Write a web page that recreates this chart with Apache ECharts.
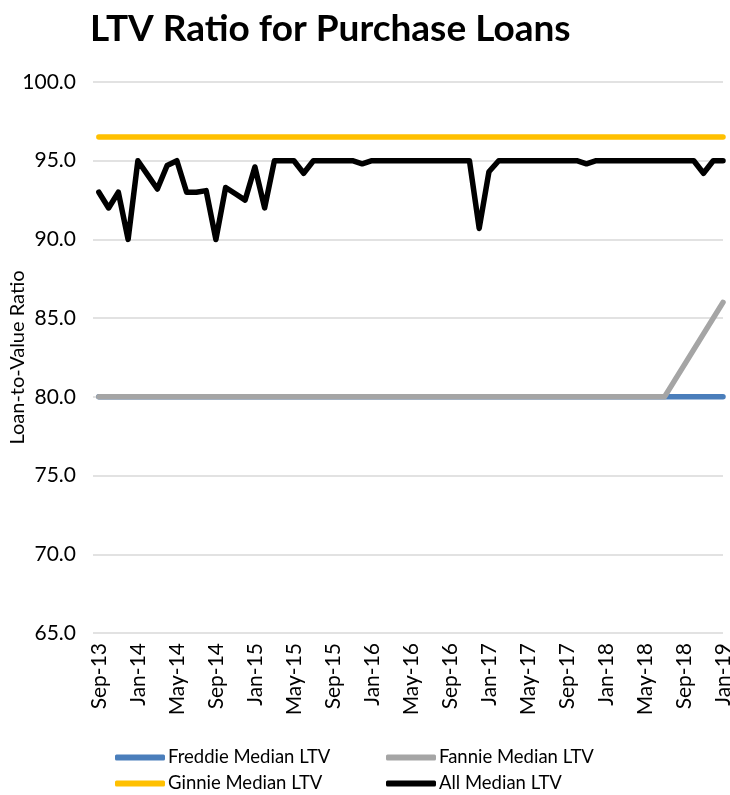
<!DOCTYPE html>
<html>
<head>
<meta charset="utf-8">
<script src="https://cdn.jsdelivr.net/npm/echarts@6/dist/echarts.min.js"></script>
<style>
  html, body { margin: 0; padding: 0; background: #fff; }
  #main { width: 730px; height: 795px; }
</style>
</head>
<body>
<div id="main"></div>
<script>
// categories, monthly Sep-13 .. Jan-19
const months = [
  'Sep-13', 'Oct-13', 'Nov-13', 'Dec-13',
  'Jan-14', 'Feb-14', 'Mar-14', 'Apr-14', 'May-14', 'Jun-14', 'Jul-14', 'Aug-14', 'Sep-14', 'Oct-14', 'Nov-14', 'Dec-14',
  'Jan-15', 'Feb-15', 'Mar-15', 'Apr-15', 'May-15', 'Jun-15', 'Jul-15', 'Aug-15', 'Sep-15', 'Oct-15', 'Nov-15', 'Dec-15',
  'Jan-16', 'Feb-16', 'Mar-16', 'Apr-16', 'May-16', 'Jun-16', 'Jul-16', 'Aug-16', 'Sep-16', 'Oct-16', 'Nov-16', 'Dec-16',
  'Jan-17', 'Feb-17', 'Mar-17', 'Apr-17', 'May-17', 'Jun-17', 'Jul-17', 'Aug-17', 'Sep-17', 'Oct-17', 'Nov-17', 'Dec-17',
  'Jan-18', 'Feb-18', 'Mar-18', 'Apr-18', 'May-18', 'Jun-18', 'Jul-18', 'Aug-18', 'Sep-18', 'Oct-18', 'Nov-18', 'Dec-18',
  'Jan-19'
]
// months that get a label (every 4th)
const labelIdx = [0, 4, 8, 12, 16, 20, 24, 28, 32, 36, 40, 44, 48, 52, 56, 60, 64]

// series values
const freddie = [
  80, 80, 80, 80,
  80, 80, 80, 80, 80, 80, 80, 80, 80, 80, 80, 80,
  80, 80, 80, 80, 80, 80, 80, 80, 80, 80, 80, 80,
  80, 80, 80, 80, 80, 80, 80, 80, 80, 80, 80, 80,
  80, 80, 80, 80, 80, 80, 80, 80, 80, 80, 80, 80,
  80, 80, 80, 80, 80, 80, 80, 80, 80, 80, 80, 80,
  80
]
const fannie = [
  80, 80, 80, 80,
  80, 80, 80, 80, 80, 80, 80, 80, 80, 80, 80, 80,
  80, 80, 80, 80, 80, 80, 80, 80, 80, 80, 80, 80,
  80, 80, 80, 80, 80, 80, 80, 80, 80, 80, 80, 80,
  80, 80, 80, 80, 80, 80, 80, 80, 80, 80, 80, 80,
  80, 80, 80, 80, 80, 80, 80, 81, 82, 83, 84, 85,
  86
]
const ginnie = [
  96.5, 96.5, 96.5, 96.5,
  96.5, 96.5, 96.5, 96.5, 96.5, 96.5, 96.5, 96.5, 96.5, 96.5, 96.5, 96.5,
  96.5, 96.5, 96.5, 96.5, 96.5, 96.5, 96.5, 96.5, 96.5, 96.5, 96.5, 96.5,
  96.5, 96.5, 96.5, 96.5, 96.5, 96.5, 96.5, 96.5, 96.5, 96.5, 96.5, 96.5,
  96.5, 96.5, 96.5, 96.5, 96.5, 96.5, 96.5, 96.5, 96.5, 96.5, 96.5, 96.5,
  96.5, 96.5, 96.5, 96.5, 96.5, 96.5, 96.5, 96.5, 96.5, 96.5, 96.5, 96.5,
  96.5
]
const allMedian = [
  93.0, 92.0, 93.0, 90.0,
  95.0, 94.1, 93.2, 94.7, 95.0, 93.0, 93.0, 93.1, 90.0, 93.3, 92.9, 92.5,
  94.6, 92.0, 95.0, 95.0, 95.0, 94.2, 95.0, 95.0, 95.0, 95.0, 95.0, 94.8,
  95.0, 95.0, 95.0, 95.0, 95.0, 95.0, 95.0, 95.0, 95.0, 95.0, 95.0, 90.7,
  94.3, 95.0, 95.0, 95.0, 95.0, 95.0, 95.0, 95.0, 95.0, 95.0, 94.8, 95.0,
  95.0, 95.0, 95.0, 95.0, 95.0, 95.0, 95.0, 95.0, 95.0, 95.0, 94.2, 95.0,
  95.0
]

const font = 'Lato'
const myChart = echarts.init(document.getElementById('main'))

// x is the month index, so the first point can sit a little inside the plot like in excel
const line = (name, data, color) => ({
  name: name,
  type: 'line',
  data: data.map((v, i) => [i, v]),
  symbol: 'none',
  color: color,
  lineStyle: { width: 5.5, color: color, cap: 'round', join: 'round' },
  emphasis: { disabled: true }
})

// one legend per item so the 2x2 layout is fixed
const legendItem = (name, left, top) => ({
  left: left,
  top: top,
  data: [name],
  itemWidth: 50,
  itemHeight: 6,
  icon: 'roundRect',
  selectedMode: false,
  padding: 0,
  textStyle: { fontFamily: font, fontSize: 18.5, color: '#000', padding: [0, 0, 0, -2] }
})

let option = {
  animation: false,
  title: {
    text: 'LTV Ratio for Purchase Loans',
    left: 85,
    top: 6,
    textStyle: { fontFamily: font, fontSize: 37, fontWeight: 'bold', color: '#000' }
  },
  legend: [
    legendItem('Freddie Median LTV', 115, 748),
    legendItem('Fannie Median LTV', 386, 748),
    legendItem('Ginnie Median LTV', 115, 774),
    legendItem('All Median LTV', 386, 774)
  ],
  grid: { left: 93, right: 7, top: 82, bottom: 162, outerBoundsMode: 'none' },
  xAxis: {
    type: 'value',
    min: -0.6,
    max: 64,
    axisLine: { show: false },
    axisTick: { show: false },
    splitLine: { show: false },
    axisLabel: {
      customValues: labelIdx,
      rotate: 90,
      margin: 10,
      fontFamily: font,
      fontSize: 21,
      color: '#000',
      formatter: (v) => months[v]
    }
  },
  yAxis: {
    type: 'value',
    min: 65,
    max: 100,
    interval: 5,
    name: 'Loan-to-Value Ratio',
    nameLocation: 'middle',
    nameGap: 65,
    nameMoveOverlap: false,
    nameTextStyle: { fontFamily: font, fontSize: 20, color: '#000' },
    axisLine: { show: false },
    axisTick: { show: false },
    splitLine: { lineStyle: { color: '#d9d9d9', width: 1.5 } },
    axisLabel: {
      margin: 17,
      fontFamily: font,
      fontSize: 21,
      color: '#000',
      formatter: (v) => v.toFixed(1)
    }
  },
  series: [
    line('Freddie Median LTV', freddie, '#4a7ebb'),
    line('Fannie Median LTV', fannie, '#a5a5a5'),
    line('Ginnie Median LTV', ginnie, '#ffc000'),
    line('All Median LTV', allMedian, '#000000')
  ]
}

myChart.setOption(option)
</script>
</body>
</html>
